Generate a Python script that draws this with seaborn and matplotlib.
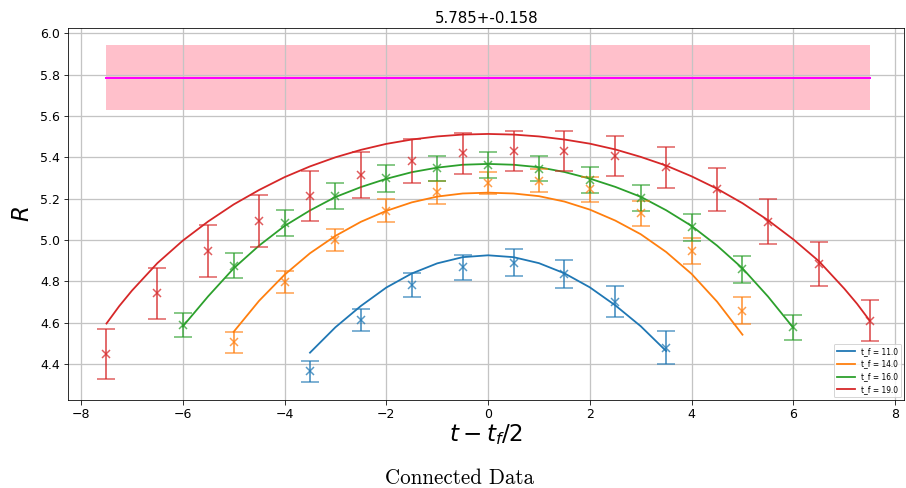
import matplotlib
matplotlib.use("Agg")
import matplotlib.pyplot as plt
import numpy as np
import pandas as pd
import seaborn as sns

# ---------------- data ----------------
labels = ["t_f = 11.0", "t_f = 14.0", "t_f = 16.0", "t_f = 19.0"]

x11 = [-3.5, -2.5, -1.5, -0.5, 0.5, 1.5, 2.5, 3.5]
y11 = [4.364, 4.614, 4.783, 4.868, 4.890, 4.836, 4.702, 4.480]
e11 = [0.053, 0.054, 0.058, 0.060, 0.065, 0.069, 0.074, 0.078]

x14 = [-5, -4, -3, -2, -1, 0, 1, 2, 3, 4, 5]
y14 = [4.505, 4.798, 5.000, 5.142, 5.231, 5.277, 5.287, 5.245, 5.129, 4.948, 4.658]
e14 = [0.052, 0.053, 0.054, 0.055, 0.055, 0.054, 0.057, 0.060, 0.060, 0.063, 0.064]

x16 = [-6, -5, -4, -3, -2, -1, 0, 1, 2, 3, 4, 5, 6]
y16 = [4.589, 4.876, 5.081, 5.213, 5.298, 5.347, 5.363, 5.344, 5.290, 5.203, 5.061, 4.858, 4.577]
e16 = [0.060, 0.062, 0.064, 0.065, 0.065, 0.061, 0.062, 0.061, 0.064, 0.065, 0.064, 0.064, 0.060]

x19 = [-7.5, -6.5, -5.5, -4.5, -3.5, -2.5, -1.5, -0.5, 0.5, 1.5, 2.5, 3.5, 4.5, 5.5, 6.5, 7.5]
y19 = [4.447, 4.742, 4.948, 5.092, 5.211, 5.315, 5.381, 5.419, 5.432, 5.431, 5.408, 5.352, 5.245, 5.089, 4.884, 4.610]
e19 = [0.121, 0.124, 0.125, 0.128, 0.121, 0.113, 0.106, 0.098, 0.096, 0.095, 0.097, 0.099, 0.105, 0.110, 0.107, 0.099]

# fitted curves
fx11 = [-3.5, -3.0, -2.5, -2.0, -1.5, -1.0, -0.5, 0.0, 0.5, 1.0, 1.5, 2.0, 2.5, 3.0, 3.5]
fy11 = [4.455, 4.578, 4.681, 4.770, 4.838, 4.887, 4.917, 4.926, 4.917, 4.888, 4.839, 4.771, 4.684, 4.583, 4.463]

fx14 = [-5.0, -4.5, -4.0, -3.5, -3.0, -2.5, -2.0, -1.5, -1.0, -0.5, 0.0,
        0.5, 1.0, 1.5, 2.0, 2.5, 3.0, 3.5, 4.0, 4.5, 5.0]
fy14 = [4.556, 4.706, 4.832, 4.936, 5.020, 5.088, 5.141, 5.182, 5.210, 5.225, 5.229,
        5.225, 5.212, 5.186, 5.147, 5.094, 5.028, 4.942, 4.836, 4.702, 4.542]

fx16 = [-6.0, -5.5, -5.0, -4.5, -4.0, -3.5, -3.0, -2.5, -2.0, -1.5, -1.0, -0.5, 0.0,
        0.5, 1.0, 1.5, 2.0, 2.5, 3.0, 3.5, 4.0, 4.5, 5.0, 5.5, 6.0]
fy16 = [4.582, 4.728, 4.863, 4.973, 5.068, 5.143, 5.208, 5.256, 5.296, 5.328, 5.350, 5.364, 5.368,
        5.364, 5.352, 5.329, 5.297, 5.257, 5.209, 5.144, 5.068, 4.973, 4.863, 4.727, 4.575]

fx19 = [-7.5, -7.25, -7.0, -6.5, -6.0, -5.5, -5.0, -4.5, -4.0, -3.5, -3.0, -2.5, -2.0, -1.5, -1.0, -0.5, 0.0,
        0.5, 1.0, 1.5, 2.0, 2.5, 3.0, 3.5, 4.0, 4.5, 5.0, 5.5, 6.0, 6.5, 7.0, 7.25, 7.5]
fy19 = [4.596, 4.680, 4.755, 4.888, 4.997, 5.090, 5.172, 5.242, 5.304, 5.356, 5.400, 5.436, 5.465, 5.486, 5.501, 5.510, 5.513,
        5.510, 5.501, 5.486, 5.466, 5.438, 5.402, 5.360, 5.308, 5.248, 5.178, 5.096, 5.003, 4.898, 4.765, 4.692, 4.610]

band_x = [-7.5, 7.5]
band_mean = 5.785
band_err = 0.158
title_text = "5.785+-0.158"

# ---------------- plot ----------------
colors = sns.color_palette("tab10", 4)

fig = plt.figure(figsize=(906 / 72, 488 / 72), dpi=72)
ax = fig.add_axes([0.0754, 0.1803, 0.9227, 0.7617])

ax.fill_between(band_x, [band_mean - band_err] * 2, [band_mean + band_err] * 2,
                color="pink", linewidth=0, zorder=1)
ax.plot(band_x, [band_mean] * 2, color="magenta", lw=2, zorder=2)

fit_df = pd.concat([
    pd.DataFrame({"t": fx, "R": fy, "series": lab})
    for fx, fy, lab in zip([fx11, fx14, fx16, fx19], [fy11, fy14, fy16, fy19], labels)
], ignore_index=True)

sns.lineplot(data=fit_df, x="t", y="R", hue="series", hue_order=labels,
             palette=colors, lw=1.8, estimator=None, sort=False, ax=ax, zorder=3)

for xs, ys, es, c in zip([x11, x14, x16, x19], [y11, y14, y16, y19],
                         [e11, e14, e16, e19], colors):
    ax.errorbar(xs, ys, yerr=es, fmt="x", color=c, ecolor=c, capsize=9,
                ms=8, mew=1.5, elinewidth=1.8, capthick=1.8, alpha=0.75, zorder=4)

ax.set_xlim(-8.25, 8.18)
ax.set_ylim(4.226, 6.024)
ax.set_xticks([-8, -6, -4, -2, 0, 2, 4, 6, 8])
ax.set_yticks([4.4, 4.6, 4.8, 5.0, 5.2, 5.4, 5.6, 5.8, 6.0])
ax.grid(True, color="#c4c4c4", lw=1.3)
ax.tick_params(labelsize=12.5, length=4.5)

ax.set_title(title_text, fontsize=15, pad=5)
ax.set_xlabel(r"$t - t_f/2$", fontsize=23, labelpad=1)
ax.set_ylabel(r"$R$", fontsize=23, labelpad=6)

ax.legend(loc="lower right", fontsize=7.5, handlelength=2.5, borderaxespad=0.4)

fig.text(0.507, 0.001, "Connected Data", family="cmr10", fontsize=21,
         ha="center", va="bottom")

fig.savefig("out.png", dpi=72)
